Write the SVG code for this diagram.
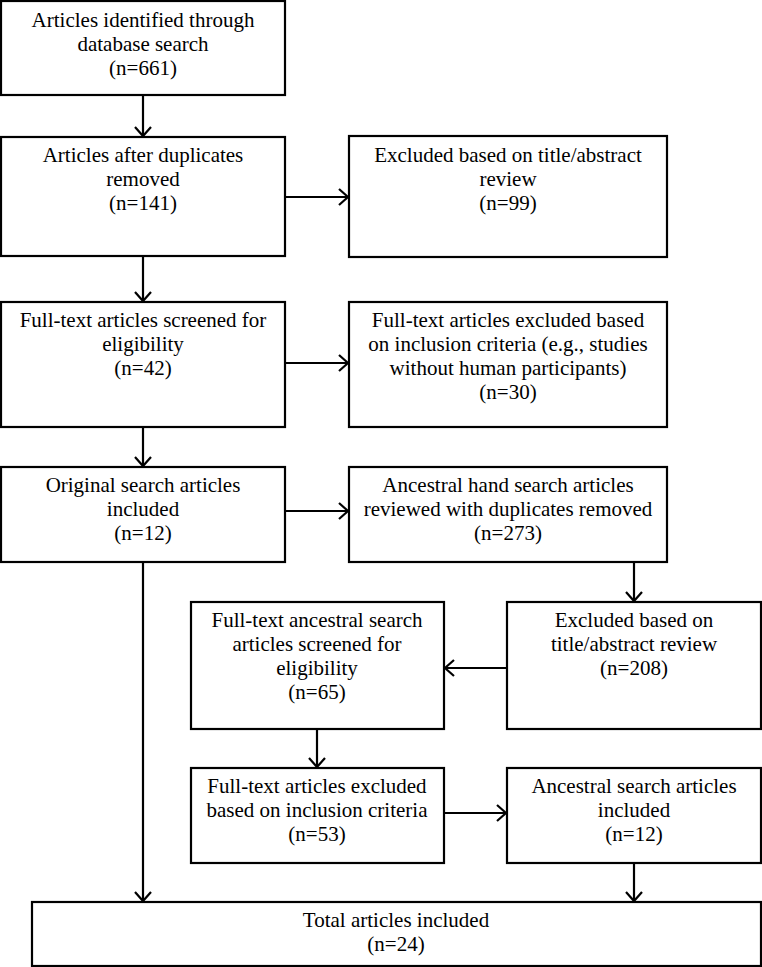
<svg xmlns="http://www.w3.org/2000/svg" width="762" height="967" viewBox="0 0 762 967">
<defs>
<marker id="ah" markerUnits="userSpaceOnUse" markerWidth="20" markerHeight="20" viewBox="-10 -10 20 20" refX="0" refY="0" orient="auto">
<path d="M-9,-8 L0,0 L-9,8" fill="none" stroke="#000" stroke-width="2.2"/>
</marker>
</defs>
<style>
rect{fill:#fff;stroke:#000;stroke-width:2.2}
text{fill:#000;text-anchor:middle}
.c line{stroke:#000;stroke-width:2.2;marker-end:url(#ah)}
</style>
<rect x="0" y="0" width="762" height="967" style="stroke:none"/>
<g id="b1"><rect x="1" y="1" width="284" height="94"/><text font-family="Liberation Serif" font-size="21" x="143" y="27">Articles identified through</text><text font-family="Liberation Serif" font-size="21" x="143" y="51">database search</text><text font-family="Liberation Serif" font-size="21" x="143" y="75">(n=661)</text></g>
<g id="b2"><rect x="1" y="137" width="284" height="119"/><text font-family="Liberation Serif" font-size="21" x="143" y="162">Articles after duplicates</text><text font-family="Liberation Serif" font-size="21" x="143" y="186">removed</text><text font-family="Liberation Serif" font-size="21" x="143" y="210">(n=141)</text></g>
<g id="e1"><rect x="349" y="136" width="318" height="121"/><text font-family="Liberation Serif" font-size="21" x="508" y="162">Excluded based on title/abstract</text><text font-family="Liberation Serif" font-size="21" x="508" y="186">review</text><text font-family="Liberation Serif" font-size="21" x="508" y="210">(n=99)</text></g>
<g id="b3"><rect x="1" y="302" width="284" height="125"/><text font-family="Liberation Serif" font-size="21" x="143" y="327">Full-text articles screened for</text><text font-family="Liberation Serif" font-size="21" x="143" y="351">eligibility</text><text font-family="Liberation Serif" font-size="21" x="143" y="375">(n=42)</text></g>
<g id="e2"><rect x="349" y="302" width="318" height="125"/><text font-family="Liberation Serif" font-size="21" x="508" y="327">Full-text articles excluded based</text><text font-family="Liberation Serif" font-size="21" x="508" y="351">on inclusion criteria (e.g., studies</text><text font-family="Liberation Serif" font-size="21" x="508" y="375">without human participants)</text><text font-family="Liberation Serif" font-size="21" x="508" y="399">(n=30)</text></g>
<g id="b4"><rect x="1" y="467" width="284" height="95"/><text font-family="Liberation Serif" font-size="21" x="143" y="492">Original search articles</text><text font-family="Liberation Serif" font-size="21" x="143" y="516">included</text><text font-family="Liberation Serif" font-size="21" x="143" y="540">(n=12)</text></g>
<g id="a1"><rect x="349" y="467" width="318" height="95"/><text font-family="Liberation Serif" font-size="21" x="508" y="492">Ancestral hand search articles</text><text font-family="Liberation Serif" font-size="21" x="508" y="516">reviewed with duplicates removed</text><text font-family="Liberation Serif" font-size="21" x="508" y="540">(n=273)</text></g>
<g id="e3"><rect x="507" y="602" width="254" height="127"/><text font-family="Liberation Serif" font-size="21" x="634" y="627">Excluded based on</text><text font-family="Liberation Serif" font-size="21" x="634" y="651">title/abstract review</text><text font-family="Liberation Serif" font-size="21" x="634" y="675">(n=208)</text></g>
<g id="f1"><rect x="191" y="602" width="253" height="127"/><text font-family="Liberation Serif" font-size="21" x="317" y="627">Full-text ancestral search</text><text font-family="Liberation Serif" font-size="21" x="317" y="651">articles screened for</text><text font-family="Liberation Serif" font-size="21" x="317" y="675">eligibility</text><text font-family="Liberation Serif" font-size="21" x="317" y="699">(n=65)</text></g>
<g id="f2"><rect x="191" y="768" width="253" height="95"/><text font-family="Liberation Serif" font-size="21" x="317" y="793">Full-text articles excluded</text><text font-family="Liberation Serif" font-size="21" x="317" y="817">based on inclusion criteria</text><text font-family="Liberation Serif" font-size="21" x="317" y="841">(n=53)</text></g>
<g id="a2"><rect x="507" y="768" width="254" height="95"/><text font-family="Liberation Serif" font-size="21" x="634" y="793">Ancestral search articles</text><text font-family="Liberation Serif" font-size="21" x="634" y="817">included</text><text font-family="Liberation Serif" font-size="21" x="634" y="841">(n=12)</text></g>
<g id="t"><rect x="32" y="902" width="729" height="64"/><text font-family="Liberation Serif" font-size="21" x="396" y="927">Total articles included</text><text font-family="Liberation Serif" font-size="21" x="396" y="951">(n=24)</text></g>
<g id="connectors" class="c">
<line x1="143" y1="95" x2="143" y2="136"/>
<line x1="143" y1="256" x2="143" y2="301"/>
<line x1="143" y1="427" x2="143" y2="466"/>
<line x1="143" y1="562" x2="143" y2="901"/>
<line x1="285" y1="197" x2="348" y2="197"/>
<line x1="285" y1="363" x2="348" y2="363"/>
<line x1="285" y1="511" x2="348" y2="511"/>
<line x1="634" y1="562" x2="634" y2="601"/>
<line x1="507" y1="668" x2="445" y2="668"/>
<line x1="317" y1="729" x2="317" y2="767"/>
<line x1="444" y1="813" x2="506" y2="813"/>
<line x1="634" y1="863" x2="634" y2="901"/>
</g>
</svg>
